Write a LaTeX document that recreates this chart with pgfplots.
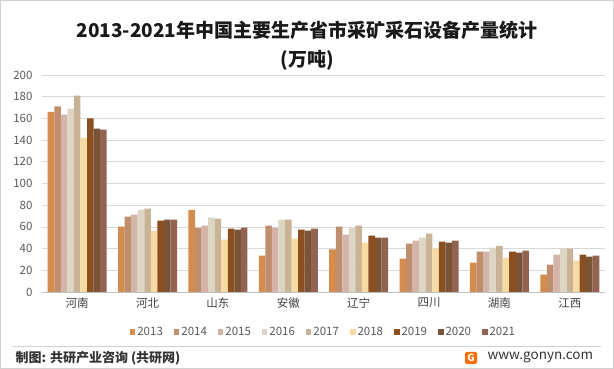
\documentclass[border=0pt]{standalone}
\usepackage{fontspec}
\setmainfont{Noto Sans CJK SC}
\usepackage{pgfplots}
\pgfplotsset{compat=1.18}
\definecolor{c13}{HTML}{D48C4F}
\definecolor{c14}{HTML}{BF8E6D}
\definecolor{c15}{HTML}{D4B4A8}
\definecolor{c16}{HTML}{DED6C4}
\definecolor{c17}{HTML}{C8B397}
\definecolor{c18}{HTML}{F8DBA3}
\definecolor{c19}{HTML}{8B4F20}
\definecolor{c20}{HTML}{7A5437}
\definecolor{c21}{HTML}{936351}
\definecolor{txt}{HTML}{595959}
\begin{document}
\begin{tikzpicture}[x=1pt,y=1pt]
\path[use as bounding box] (0,0) rectangle (614,369);
\draw[draw=black!18, line width=0.8pt] (0.8,0.8) rectangle (613.2,368.2);
\node[font=\bfseries\fontsize{19}{22}\selectfont, text=black!90] at (307,339) {2013-2021年中国主要生产省市采矿采石设备产量统计};
\node[font=\bfseries\fontsize{19}{22}\selectfont, text=black!90] at (307,309) {(万吨)};
\begin{axis}[at={(42pt,77pt)}, anchor=south west, scale only axis,
  width=563pt, height=217pt,
  ybar=0pt, bar width=0.093,
  xmin=-0.5, xmax=7.5, ymin=0, ymax=200,
  ytick={0,20,...,200},
  xtick={0,...,7},
  xticklabels={河南,河北,山东,安徽,辽宁,四川,湖南,江西},
  ymajorgrids, grid style={draw=black!15, line width=0.7pt},
  axis x line*=bottom, axis y line*=left,
  y axis line style={draw=none},
  x axis line style={draw=black!25, line width=0.7pt},
  major tick length=0pt,
  /pgf/number format/assume math mode=true,
  yticklabel style={font=\fontsize{11.5}{13}\selectfont, text=txt, xshift=-6pt},
  xticklabel style={font=\fontsize{11.5}{13}\selectfont, text=black!75, yshift=-2pt},
  legend columns=9,
  legend style={at={(0.5,-0.184)}, anchor=center, draw=none, fill=none,
    font=\fontsize{11.5}{13}\selectfont, text=txt,
    /tikz/every even column/.append style={column sep=9pt}},
  legend image code/.code={\fill[#1,draw=none] (0pt,-3pt) rectangle (5.5pt,3pt);},
]
\addplot[fill=c13,draw=none] coordinates {(0,166) (1,60.2) (2,75.8) (3,33.5) (4,39.3) (5,30.7) (6,27) (7,16)};
\addplot[fill=c14,draw=none] coordinates {(0,171) (1,69.4) (2,59) (3,61.1) (4,60.2) (5,44.5) (6,37.1) (7,25.2)};
\addplot[fill=c15,draw=none] coordinates {(0,163.4) (1,71.2) (2,61.1) (3,59.3) (4,52.8) (5,47.3) (6,37.1) (7,34.4)};
\addplot[fill=c16,draw=none] coordinates {(0,169) (1,75.8) (2,68.5) (3,66.6) (4,59) (5,50) (6,40.8) (7,39.9)};
\addplot[fill=c17,draw=none] coordinates {(0,181) (1,76.8) (2,67.6) (3,66.6) (4,61.1) (5,53.7) (6,42.6) (7,39.9)};
\addplot[fill=c18,draw=none] coordinates {(0,142) (1,56.5) (2,48.2) (3,49.1) (4,45.4) (5,39.9) (6,31.6) (7,28.8)};
\addplot[fill=c19,draw=none] coordinates {(0,160) (1,65.7) (2,58.3) (3,57.4) (4,51.9) (5,46.4) (6,37.1) (7,34.4)};
\addplot[fill=c20,draw=none] coordinates {(0,150.5) (1,66.6) (2,57.4) (3,56.5) (4,50) (5,45.4) (6,36.2) (7,32.5)};
\addplot[fill=c21,draw=none] coordinates {(0,149.6) (1,66.6) (2,59.3) (3,58.3) (4,50) (5,47.3) (6,38.1) (7,33.5)};
\legend{2013,2014,2015,2016,2017,2018,2019,2020,2021}
\end{axis}
\draw[draw=black!18, line width=0.7pt] (12,23) -- (601,23);
\node[anchor=west, font=\bfseries\fontsize{13}{15}\selectfont, text=black!80] at (12,11) {制图: 共研产业咨询 (共研网)};
\node[fill=orange!85!red, rounded corners=1.5pt, minimum width=12pt, minimum height=12pt, inner sep=0pt, text=white, font=\bfseries\fontsize{10}{10}\selectfont] at (471,11) {G};
\node[anchor=west, font=\fontsize{13.5}{15}\selectfont, text=black!80] at (484,12) {www.gonyn.com};
\end{tikzpicture}
\end{document}
